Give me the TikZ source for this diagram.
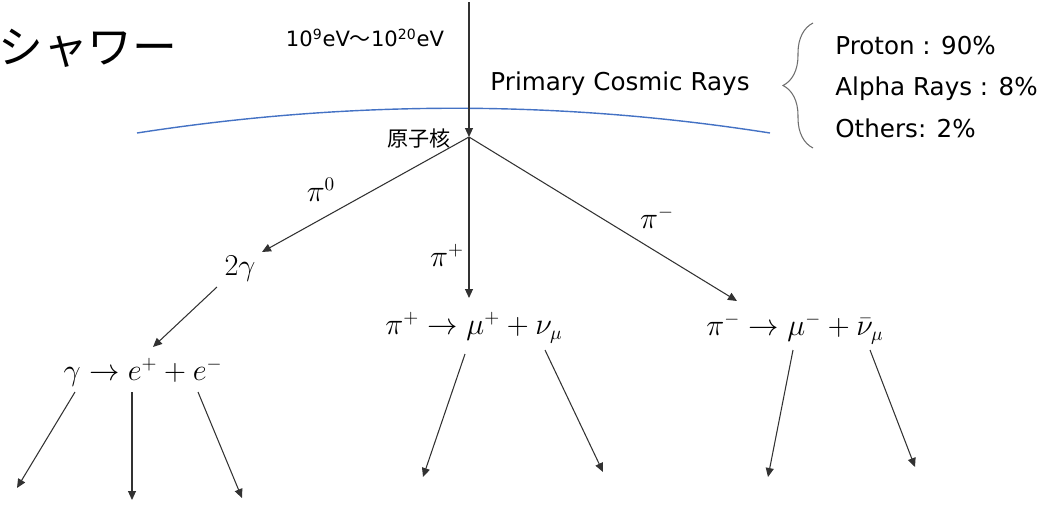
\documentclass[tikz,border=0pt]{standalone}
\usepackage{amsmath,amssymb}
\usepackage{fontspec}
\setsansfont{DejaVu Sans}
\newfontfamily\jpfont{Noto Sans CJK JP}
\usetikzlibrary{calc,arrows.meta,decorations.pathreplacing}
\definecolor{skyblue}{RGB}{68,114,196}
\definecolor{bracegray}{RGB}{110,110,110}
\definecolor{arrowgray}{RGB}{50,50,50}

\begin{document}
\begin{tikzpicture}[x=0.02cm,y=-0.02cm,
  particle/.style={inner sep=0pt,font=\fontsize{16}{19}\selectfont},
  sanslabel/.style={inner sep=0pt,font=\sffamily\fontsize{14}{17}\selectfont},
  flow/.style={draw=arrowgray,line width=0.6pt,-{Triangle[length=1.8mm,width=1.6mm]}}]
  \useasboundingbox (0,0) rectangle (1047,504);

  % title
  \node[inner sep=0pt,anchor=west,font=\jpfont\fontsize{25.5}{30}\selectfont] (title) at (-2,48) {シャワー};

  % primary rays
  \node[inner sep=0pt,font=\sffamily\fontsize{12}{14}\selectfont] (energy) at (365,38) {10\textsuperscript{9}eV{\jpfont 〜}10\textsuperscript{20}eV};
  \node[sanslabel] (primary) at (620,84) {Primary Cosmic Rays};
  \draw[bracegray,line width=0.6pt,decorate,decoration={brace,amplitude=0.6cm}] (813,148) -- (813,23);
  \node[sanslabel,anchor=west] (proton) at (835,46) {Proton : 90\%};
  \node[sanslabel,anchor=west] (alpha) at (835,89) {Alpha Rays : 8\%};
  \node[sanslabel,anchor=west] (others) at (835,128) {Others: 2\%};

  % atmosphere
  \draw[skyblue,line width=0.8pt] (137,133) .. controls (350,100) and (560,100) .. (770,133);

  % nucleus
  \coordinate (source) at (469,2);
  \coordinate (nuc) at (469,137);
  \draw[flow] (source) -- (nuc);
  \node[inner sep=0pt,anchor=east,font=\jpfont\fontsize{12}{14}\selectfont] (nuclabel) at (451,139) {原子核};

  % pions
  \node[particle] (lpizero) at (321,190) {$\pi^0$};
  \node[particle] (lpiplus) at (447,255) {$\pi^+$};
  \node[particle] (lpiminus) at (657,217) {$\pi^-$};

  % decays
  \node[particle] (twogam) at (240,269) {$2\gamma$};
  \node[particle] (pair) at (143,372) {$\gamma \rightarrow e^+ + e^-$};
  \node[particle] (muplus) at (474,328) {$\pi^+ \rightarrow \mu^+ + \nu_\mu$};
  \node[particle] (muminus) at (795,329) {$\pi^- \rightarrow \mu^- + \bar{\nu}_\mu$};

  \draw[flow] (nuc) -- ($(twogam)+(22,-17)$);
  \draw[flow] (nuc) -- ($(muplus)+(-5,-30)$);
  \draw[flow] (nuc) -- ($(muminus)+(-58,-28)$);
  \draw[flow] ($(twogam)+(-23,18)$) -- ($(pair)+(10,-25)$);

  % secondaries
  \coordinate (pairL) at (17,488);
  \coordinate (pairM) at (132,500);
  \coordinate (pairR) at (242,498);
  \coordinate (mupL) at (423,477);
  \coordinate (mupR) at (603,472);
  \coordinate (mumL) at (768,477);
  \coordinate (mumR) at (915,467);
  \draw[flow] ($(pair)+(-68,20)$) -- (pairL);
  \draw[flow] ($(pair)+(-11,20)$) -- (pairM);
  \draw[flow] ($(pair)+(55,20)$) -- (pairR);
  \draw[flow] ($(muplus)+(-9,26)$) -- (mupL);
  \draw[flow] ($(muplus)+(71,22)$) -- (mupR);
  \draw[flow] ($(muminus)+(-2,21)$) -- (mumL);
  \draw[flow] ($(muminus)+(75,21)$) -- (mumR);
\end{tikzpicture}
\end{document}
